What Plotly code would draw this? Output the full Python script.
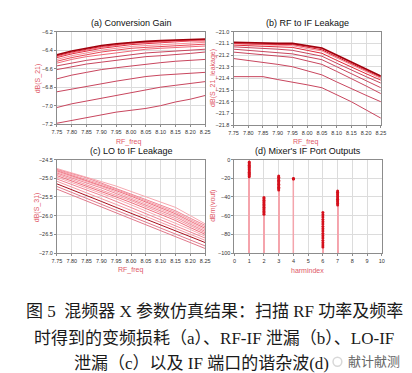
import plotly.graph_objects as go

W, H = 412, 373

rf_freq = [7.75, 7.80, 7.85, 7.90, 7.95, 8.00, 8.05, 8.10, 8.15, 8.20, 8.25]

# (a) Conversion Gain, dB(S_21) -- bottom to top
gain_curves = [
    [-7.19, -7.16, -7.13, -7.10, -7.07, -7.05, -7.03, -7.00, -6.96, -6.93, -6.89],
    [-7.02, -6.98, -6.95, -6.92, -6.89, -6.86, -6.83, -6.80, -6.78, -6.76, -6.74],
    [-6.85, -6.82, -6.79, -6.76, -6.735, -6.71, -6.685, -6.67, -6.66, -6.65, -6.64],
    [-6.71, -6.67, -6.64, -6.61, -6.59, -6.57, -6.55, -6.535, -6.52, -6.51, -6.50],
    [-6.61, -6.58, -6.55, -6.53, -6.51, -6.49, -6.47, -6.46, -6.45, -6.435, -6.42],
    [-6.57, -6.54, -6.51, -6.49, -6.47, -6.45, -6.43, -6.42, -6.41, -6.40, -6.39],
    [-6.54, -6.50, -6.47, -6.45, -6.43, -6.41, -6.39, -6.38, -6.37, -6.36, -6.355],
    [-6.52, -6.48, -6.45, -6.42, -6.40, -6.38, -6.37, -6.36, -6.35, -6.34, -6.335],
    [-6.50, -6.46, -6.43, -6.40, -6.38, -6.36, -6.35, -6.34, -6.33, -6.32, -6.315],
    [-6.48, -6.44, -6.41, -6.38, -6.36, -6.34, -6.33, -6.32, -6.31, -6.30, -6.30],
    [-6.47, -6.43, -6.40, -6.37, -6.35, -6.33, -6.32, -6.31, -6.30, -6.295, -6.29],
    [-6.46, -6.42, -6.39, -6.36, -6.34, -6.32, -6.31, -6.30, -6.295, -6.29, -6.285],
    [-6.45, -6.41, -6.38, -6.35, -6.33, -6.315, -6.305, -6.295, -6.29, -6.285, -6.28],
]

# (b) RF to IF Leakage, dB(S_21_leakage) -- bottom to top
rf_leak_curves = [
    [-21.385, -21.385, -21.385, -21.41, -21.43, -21.455, -21.48, -21.54, -21.60, -21.67, -21.74],
    [-21.23, -21.245, -21.26, -21.28, -21.30, -21.335, -21.37, -21.43, -21.49, -21.545, -21.60],
    [-21.175, -21.185, -21.195, -21.21, -21.22, -21.25, -21.28, -21.34, -21.40, -21.465, -21.53],
    [-21.15, -21.16, -21.17, -21.18, -21.19, -21.215, -21.24, -21.30, -21.36, -21.42, -21.48],
    [-21.13, -21.135, -21.14, -21.15, -21.16, -21.185, -21.21, -21.27, -21.33, -21.385, -21.44],
    [-21.115, -21.12, -21.125, -21.13, -21.135, -21.16, -21.185, -21.245, -21.305, -21.36, -21.415],
    [-21.105, -21.11, -21.115, -21.12, -21.12, -21.145, -21.165, -21.225, -21.285, -21.345, -21.40],
    [-21.10, -21.105, -21.11, -21.11, -21.11, -21.135, -21.155, -21.215, -21.275, -21.335, -21.39],
    [-21.095, -21.10, -21.105, -21.105, -21.105, -21.125, -21.145, -21.205, -21.265, -21.325, -21.385],
    [-21.09, -21.095, -21.10, -21.10, -21.10, -21.12, -21.14, -21.20, -21.26, -21.32, -21.38],
]

# (c) LO to IF Leakage, dB(S_31) -- bottom to top
lo_leak_curves = [
    [-25.29, -25.45, -25.61, -25.77, -25.93, -26.09, -26.25, -26.41, -26.57, -26.73, -26.88],
    [-25.22, -25.38, -25.54, -25.70, -25.86, -26.02, -26.18, -26.34, -26.50, -26.66, -26.81],
    [-25.15, -25.30, -25.46, -25.62, -25.78, -25.94, -26.10, -26.26, -26.42, -26.57, -26.72],
    [-25.08, -25.23, -25.38, -25.54, -25.70, -25.86, -26.02, -26.18, -26.34, -26.50, -26.66],
    [-25.02, -25.16, -25.31, -25.46, -25.62, -25.78, -25.94, -26.10, -26.26, -26.43, -26.60],
    [-24.97, -25.11, -25.25, -25.40, -25.55, -25.71, -25.87, -26.03, -26.19, -26.37, -26.55],
    [-24.93, -25.07, -25.20, -25.35, -25.50, -25.65, -25.81, -25.97, -26.13, -26.32, -26.50],
    [-24.89, -25.03, -25.16, -25.30, -25.45, -25.60, -25.76, -25.92, -26.08, -26.27, -26.46],
    [-24.86, -24.99, -25.12, -25.26, -25.41, -25.56, -25.72, -25.88, -26.03, -26.23, -26.42],
    [-24.83, -24.96, -25.08, -25.22, -25.37, -25.52, -25.68, -25.84, -25.99, -26.19, -26.38],
    [-24.80, -24.93, -25.05, -25.19, -25.33, -25.48, -25.64, -25.80, -25.95, -26.15, -26.34],
    [-24.78, -24.90, -25.02, -25.16, -25.30, -25.45, -25.60, -25.76, -25.91, -26.11, -26.30],
    [-24.76, -24.87, -24.99, -25.13, -25.27, -25.42, -25.57, -25.72, -25.87, -26.07, -26.26],
    [-24.74, -24.85, -24.96, -25.09, -25.21, -25.35, -25.49, -25.63, -25.78, -26.00, -26.22],
]

# (d) Mixer's IF Port Outputs, dBm(vout) per harmonic index
harm_values = {
    1: [-2.5, -3.5, -4.8, -6.0, -7.3, -8.5, -9.8, -11.0, -12.3, -13.5, -14.8, -16.0, -17.2, -18.5],
    2: [-40.5, -42.0, -43.5, -45.0, -46.5, -48.0, -49.5, -51.0, -52.5, -54.0, -55.5, -57.0, -58.5],
    3: [-17.5, -19.0, -20.5, -22.0, -23.5, -25.0, -26.5, -28.0, -29.5, -31.0, -32.5],
    4: [-20.3, -20.5, -20.7],
    6: [-56.5, -59.0, -61.5, -64.0, -66.5, -69.0, -71.5, -74.0, -76.5, -79.0, -81.5, -84.0, -86.5, -89.0, -91.5, -93.5],
    7: [-33.5, -35.0, -36.5, -38.0, -39.5, -41.0, -42.5, -44.0, -45.5, -47.0, -48.5],
}
harm_floor = -100

titles = ["(a) Conversion Gain", "(b) RF to IF Leakage", "(c) LO to IF Leakage", "(d) Mixer's IF Port Outputs"]
y_titles = ["dB(S_21)", "dB(S_21_leakage)", "dB(S_31)", "dBm(vout)"]
x_titles = ["RF_freq", "RF_freq", "RF_freq", "harmindex"]

def px(x):
    return x / W

def py(y):
    return 1 - y / H

# domains in pixels: (x0, x1, ytop, ybottom)
boxes = [
    (45, 197, 21, 115),
    (226, 377, 21, 116),
    (45, 197, 151, 246),
    (227, 378, 151, 246),
]
# axis-title pixel positions: (ytitle_x, ytitle_y, xtitle_x, xtitle_y)
title_pos = [
    (26, 68, 118, 133),
    (205, 68, 300, 133),
    (24, 199, 120, 263),
    (205, 198, 302, 264),
]

fig = go.Figure()

def gain_color(i, n):
    if i < 6:
        return "#c8465e"
    if i == n - 1:
        return "#a0000c"
    return ["#f06878", "#e84a58", "#f48c96", "#e02838", "#f27080", "#d81828"][i % 6]

for i, c in enumerate(gain_curves):
    fig.add_trace(go.Scatter(x=rf_freq, y=c, mode="lines", xaxis="x", yaxis="y",
                             line=dict(color=gain_color(i, len(gain_curves)),
                                       width=1.6 if i == len(gain_curves) - 1 else 1.0),
                             showlegend=False))

for i, c in enumerate(rf_leak_curves):
    if i < 5:
        col = "#c8465e"
    elif i == len(rf_leak_curves) - 1:
        col = "#a0000c"
    else:
        col = ["#f06878", "#e02838", "#f48c96", "#d81828"][i % 4]
    fig.add_trace(go.Scatter(x=rf_freq, y=c, mode="lines", xaxis="x2", yaxis="y2",
                             line=dict(color=col, width=1.6 if i == len(rf_leak_curves) - 1 else 1.0),
                             showlegend=False))

for i, c in enumerate(lo_leak_curves):
    if i == 2:
        col = "#a8101e"
    elif i < 2:
        col = "#e0788a"
    else:
        col = ["#f08494", "#f6a8b0", "#ee6e7e", "#f39aa4"][i % 4]
    fig.add_trace(go.Scatter(x=rf_freq, y=c, mode="lines", xaxis="x3", yaxis="y3",
                             line=dict(color=col, width=1.0), showlegend=False))

stem_x, stem_y, dot_x, dot_y = [], [], [], []
for h, vals in harm_values.items():
    for v in vals:
        stem_x += [h, h, None]
        stem_y += [harm_floor, v, None]
        dot_x.append(h)
        dot_y.append(v)
fig.add_trace(go.Scatter(x=stem_x, y=stem_y, mode="lines", xaxis="x4", yaxis="y4",
                         line=dict(color="#f4a4ac", width=1.2), showlegend=False))
fig.add_trace(go.Scatter(x=dot_x, y=dot_y, mode="markers", xaxis="x4", yaxis="y4",
                         marker=dict(color="#d4101c", size=3), showlegend=False))

tickfont = dict(family="Arial, Liberation Sans", size=5.5, color="#333333")
titlefont = dict(family="Arial, Liberation Sans", size=7, color="#e05868")
grid = "#dcdcdc"
frame = "#8c8c8c"

ax_specs = [
    dict(xr=[7.75, 8.25], xd=0.05, xf=".2f", yr=[-7.2, -6.2], yd=0.2, yf=".1f"),
    dict(xr=[7.75, 8.25], xd=0.05, xf=".2f", yr=[-21.8, -21.0], yd=0.1, yf=".1f"),
    dict(xr=[7.75, 8.25], xd=0.05, xf=".2f", yr=[-27.0, -24.5], yd=0.5, yf=".1f"),
    dict(xr=[0, 10], xd=1, xf="d", yr=[-100, 0], yd=20, yf="d"),
]

layout = dict(width=W, height=H, margin=dict(l=0, r=0, t=0, b=0),
              paper_bgcolor="white", plot_bgcolor="white", showlegend=False)
annotations = []
for k, (box, spec) in enumerate(zip(boxes, ax_specs)):
    x0, x1, yt, yb = box
    sfx = "" if k == 0 else str(k + 1)
    layout["xaxis" + sfx] = dict(domain=[px(x0), px(x1)], range=spec["xr"], dtick=spec["xd"],
                                 tick0=spec["xr"][0], tickformat=spec["xf"],
                                 anchor="y" + sfx, showgrid=True, gridcolor=grid, gridwidth=1,
                                 showline=True, linecolor=frame, linewidth=1, mirror=True,
                                 ticks="outside", ticklen=2, tickcolor=frame, tickfont=tickfont,
                                 zeroline=False)
    layout["yaxis" + sfx] = dict(domain=[py(yb), py(yt)], range=spec["yr"], dtick=spec["yd"],
                                 tick0=spec["yr"][0], tickformat=spec["yf"],
                                 anchor="x" + sfx, showgrid=True, gridcolor=grid, gridwidth=1,
                                 showline=True, linecolor=frame, linewidth=1, mirror=True,
                                 ticks="outside", ticklen=2, tickcolor=frame, tickfont=tickfont,
                                 zeroline=False)
    annotations.append(dict(text=titles[k], x=px((x0 + x1) / 2), y=py(yt - 9), xref="paper",
                            yref="paper", showarrow=False, xanchor="center", yanchor="middle",
                            font=dict(family="Arial, Liberation Sans", size=9, color="#111111")))
    ytx, yty, xtx, xty = title_pos[k]
    annotations.append(dict(text=y_titles[k], x=px(ytx), y=py(yty), xref="paper", yref="paper",
                            showarrow=False, textangle=-90, xanchor="center", yanchor="middle",
                            font=titlefont))
    annotations.append(dict(text=x_titles[k], x=px(xtx), y=py(xty), xref="paper", yref="paper",
                            showarrow=False, xanchor="center", yanchor="middle", font=titlefont))

cap_font = dict(family="Liberation Serif, Noto Sans CJK SC", size=17, color="#1a1a1a")
caption_lines = [
    ("图 5  混频器 X 参数仿真结果：扫描 RF 功率及频率", 206, 305),
    ("时得到的变频损耗（a）、RF-IF 泄漏（b）、LO-IF", 206, 333),
    ("泄漏（c）以及 IF 端口的谐杂波(d)", 193, 358),
]
for txt, cx, cy in caption_lines:
    annotations.append(dict(text=txt, x=px(cx), y=py(cy), xref="paper", yref="paper",
                            showarrow=False, xanchor="center", yanchor="middle", font=cap_font))
annotations.append(dict(text="献计献测", x=px(370), y=py(355), xref="paper", yref="paper",
                        showarrow=False, xanchor="center", yanchor="middle",
                        font=dict(family="Noto Sans CJK SC", size=13, color="#666666")))
layout["annotations"] = annotations
layout["shapes"] = [dict(type="circle", xref="paper", yref="paper",
                         x0=px(328), x1=px(337), y0=py(361), y1=py(352),
                         line=dict(color="#d8d8d8", width=1.5))]
fig.update_layout(**layout)

fig.write_html("out.html")
